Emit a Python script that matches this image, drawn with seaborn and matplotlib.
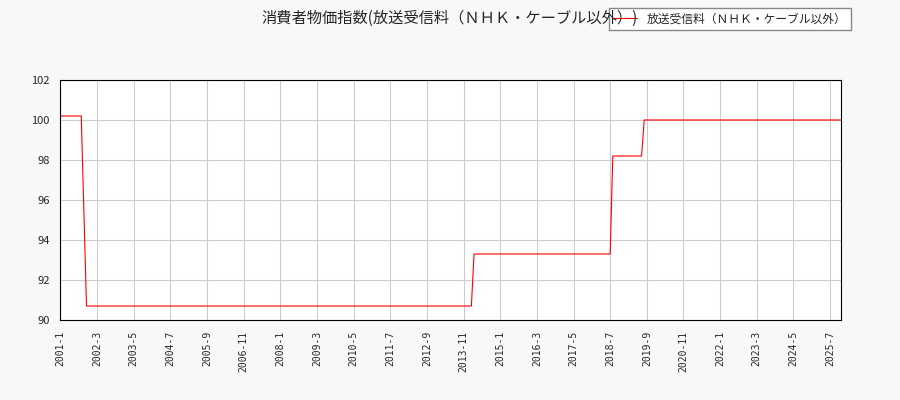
import numpy as np
import pandas as pd
import seaborn as sns
import matplotlib
matplotlib.use("Agg")
from matplotlib import pyplot as plt

# monthly index values, 2001-1 .. 2025-11
months = pd.period_range("2001-01", "2025-11", freq="M")
levels = [100.2, 95.5, 90.7, 93.3, 98.2, 100.0]
counts = [9, 1, 148, 53, 12, 76]   # months spent at each level
values = np.repeat(levels, counts)

df = pd.DataFrame({"t": np.arange(len(months)), "v": values})
tick_pos = np.arange(0, len(months), 14)
tick_labels = [f"{months[i].year}-{months[i].month}" for i in tick_pos]

sns.set_style("whitegrid")
plt.rcParams['font.family'] = ['Noto Sans CJK JP', 'DejaVu Sans']

fig = plt.figure(figsize=(9, 4), dpi=100, facecolor="#f8f8f8")
ax = fig.add_axes([0.067, 0.2, 0.867, 0.6])
ax.set_facecolor("white")
sns.lineplot(data=df, x="t", y="v", color="red", linewidth=0.8, ax=ax,
             label="放送受信料（ＮＨＫ・ケーブル以外）")
ax.set_xlim(0, len(months) - 1)
ax.set_ylim(90, 102)
ax.set_yticks(np.arange(90, 103, 2))
ax.set_xticks(tick_pos)
ax.set_xticklabels(tick_labels, rotation=90, fontsize=7, family="DejaVu Sans Mono")
ax.tick_params(axis="both", direction="out", length=4, width=0.8, color="black")
ax.tick_params(axis="y", labelsize=8)
ax.set_xlabel("")
ax.set_ylabel("")
ax.grid(color="#cccccc", linewidth=0.8)
for s in ax.spines.values():
    s.set_color("black")
    s.set_linewidth(0.8)
fig.suptitle("消費者物価指数(放送受信料（ＮＨＫ・ケーブル以外）)", x=0.5, y=0.975, fontsize=11)
ax.legend(loc="upper right", bbox_to_anchor=(0.952, 0.995), bbox_transform=fig.transFigure,
          fontsize=8.5, frameon=True, fancybox=False, edgecolor="#888888", framealpha=1)
fig.savefig("out.png", facecolor=fig.get_facecolor())
